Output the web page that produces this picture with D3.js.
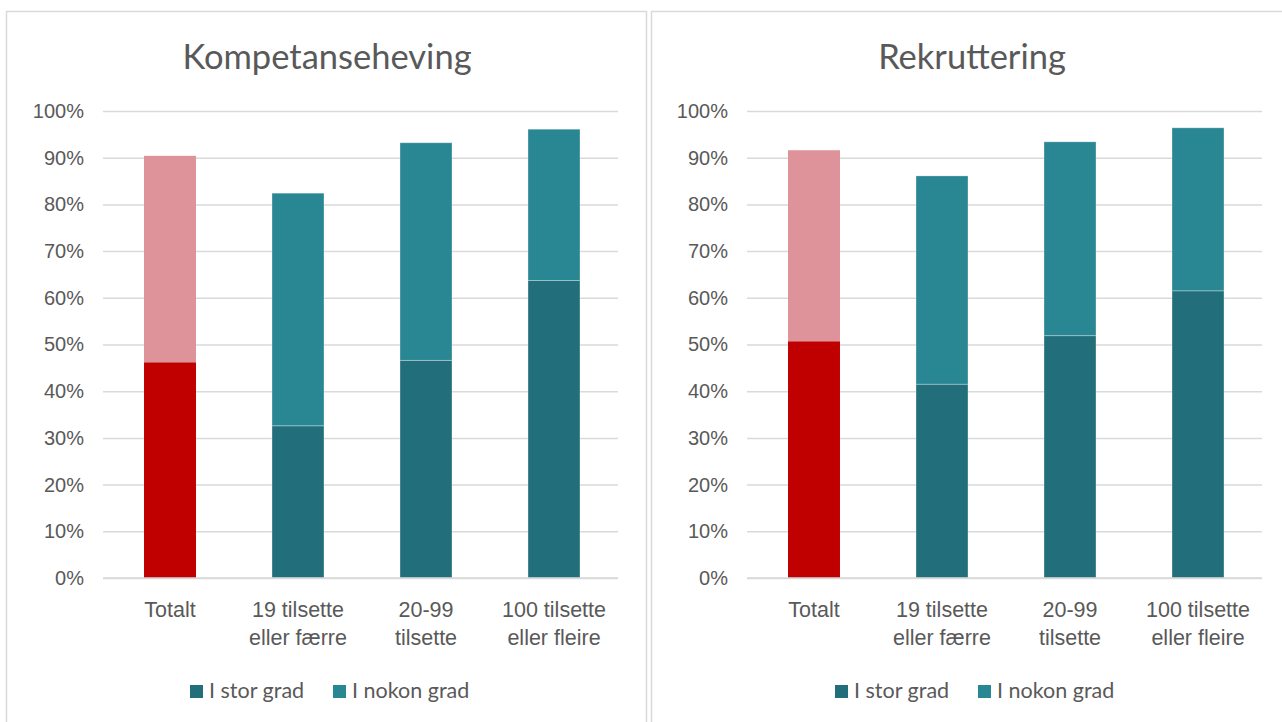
<!DOCTYPE html>
<html>
<head>
<meta charset="utf-8">
<script src="https://cdn.jsdelivr.net/npm/d3@7"></script>
<style>
  body { margin: 0; background: #fff; }
  svg { font-family: Lato, "Open Sans", sans-serif; }
  .tick text { fill: #595959; }
</style>
</head>
<body>
<div id="chart"></div>
<script>
// categories (label lines) and values, in percent
const categories = ["Totalt", "19 tilsette eller færre", "20-99 tilsette", "100 tilsette eller fleire"];
const categoryLines = [["Totalt"], ["19 tilsette", "eller færre"], ["20-99", "tilsette"], ["100 tilsette", "eller fleire"]];
const seriesNames = ["I stor grad", "I nokon grad"];
const yTicks = [0, 0.1, 0.2, 0.3, 0.4, 0.5, 0.6, 0.7, 0.8, 0.9, 1.0];

const kompetanseStor = [46.2, 32.6, 46.6, 63.7];
const kompetanseNokon = [44.2, 49.8, 46.6, 32.4];
const rekrutteringStor = [50.7, 41.5, 51.9, 61.5];
const rekrutteringNokon = [40.9, 44.6, 41.5, 34.9];

const colStor = "#226f7b", colNokon = "#298693";
const colTotStor = "#c00000", colTotNokon = "#de939a";
const textCol = "#595959", gridCol = "#d9d9d9";

const W = 1282, H = 722;
const svg = d3.select("#chart").append("svg").attr("width", W).attr("height", H);

function drawPanel(left, panelW, titleX, plotX0, plotX1, title, stor, nokon) {
    // panel frame
    svg.append("rect")
        .attr("x", left + 0.5).attr("y", 11.5)
        .attr("width", panelW).attr("height", 730)
        .attr("fill", "#fff").attr("stroke", gridCol).attr("stroke-width", 1.5);

    svg.append("text")
        .attr("x", titleX).attr("y", 69)
        .attr("text-anchor", "middle")
        .attr("fill", textCol)
        .style("font-size", "34.5px")
        .text(title);

    let y = d3.scaleLinear().domain([0, 1]).range([578, 111]);
    let x = d3.scaleBand().domain(categories).range([plotX0, plotX1])
        .paddingInner(0.594).paddingOuter(0.297);

    // y axis with gridlines
    let ya = svg.append("g")
        .attr("transform", "translate(" + plotX0 + ",0)")
        .call(d3.axisLeft(y).tickValues(yTicks).tickFormat(d3.format(".0%"))
              .tickSizeInner(-(plotX1 - plotX0 + 3)).tickSizeOuter(0).tickPadding(22));
    ya.select(".domain").remove();
    ya.selectAll(".tick line").attr("stroke", gridCol).attr("stroke-width", 1.5)
        .attr("transform", "translate(-3,0)");
    ya.selectAll(".tick text").style("font-size", "20px").attr("fill", textCol);

    // stacked bars
    let rows = categories.map((c, i) => ({cat: c, stor: stor[i] / 100, nokon: nokon[i] / 100, total: i === 0}));
    let g = svg.append("g");
    g.selectAll(".stor").data(rows).join("rect")
        .attr("x", d => x(d.cat)).attr("width", x.bandwidth())
        .attr("y", d => y(d.stor)).attr("height", d => y(0) - y(d.stor))
        .attr("fill", d => d.total ? colTotStor : colStor)
        .attr("stroke", d => d.total ? "none" : "rgba(255,255,255,0.3)");
    g.selectAll(".nokon").data(rows).join("rect")
        .attr("x", d => x(d.cat)).attr("width", x.bandwidth())
        .attr("y", d => y(d.stor + d.nokon)).attr("height", d => y(d.stor) - y(d.stor + d.nokon))
        .attr("fill", d => d.total ? colTotNokon : colNokon)
        .attr("stroke", d => d.total ? "none" : "rgba(255,255,255,0.3)");

    // x axis
    let xa = svg.append("g")
        .attr("transform", "translate(0,578)")
        .call(d3.axisBottom(x).tickSize(0).tickPadding(0));
    xa.select(".domain").attr("stroke", gridCol).attr("stroke-width", 1.5)
        .attr("d", "M" + (plotX0 - 3) + ",0H" + plotX1);
    xa.selectAll(".tick text").each(function(d, i) {
        let t = d3.select(this).text(null).attr("y", 0).attr("dy", null)
            .style("font-size", "21.5px").attr("fill", textCol);
        categoryLines[i].forEach((line, k) => {
            t.append("tspan").attr("x", 0).attr("y", 38.5 + k * 28.5).text(line);
        });
    });

    // legend
    let lx = [left + 184, left + 327];
    seriesNames.forEach((s, i) => {
        svg.append("rect").attr("x", lx[i]).attr("y", 685).attr("width", 13).attr("height", 13)
            .attr("fill", i === 0 ? colStor : colNokon);
        svg.append("text").attr("x", lx[i] + 19).attr("y", 698)
            .attr("fill", textCol).style("font-size", "21.5px").text(s);
    });
}

drawPanel(6, 640, 327, 106, 618, "Kompetanseheving", kompetanseStor, kompetanseNokon);
drawPanel(651, 660, 972, 750, 1262, "Rekruttering", rekrutteringStor, rekrutteringNokon);
</script>
</body>
</html>
